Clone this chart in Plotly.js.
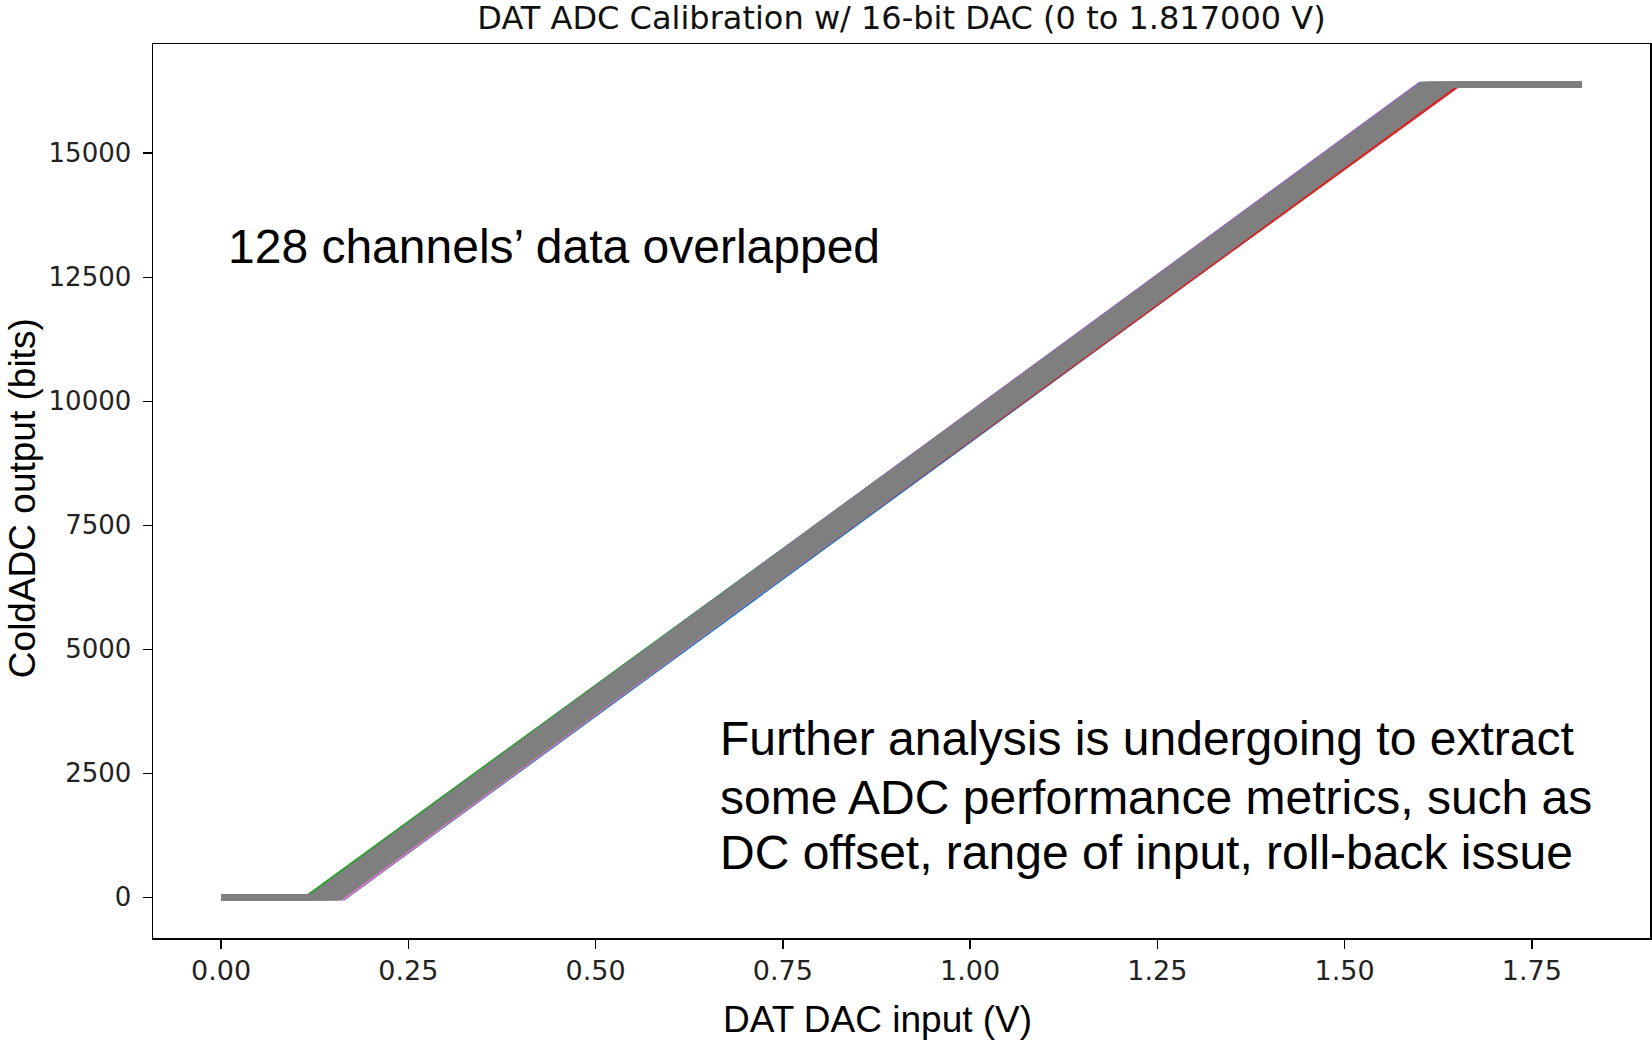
<!DOCTYPE html>
<html>
<head>
<meta charset="utf-8">
<script src="https://cdn.plot.ly/plotly-3.0.1.min.js"></script>
<style>
  html, body { margin: 0; padding: 0; background: #ffffff; }
  #chart { width: 1652px; height: 1040px; }
</style>
</head>
<body>
<div id="chart"></div>
<script>
// DAC sweep limits and ADC full scale (14-bit ColdADC)
const dacStart = 0.0;
const dacEnd = 1.817;
const adcZero = 0;
const adcFull = 16383;

// Per-channel transfer curve: input voltage where the ADC leaves 0 (knee)
// and where it reaches full scale (saturation). Colored channels first,
// the bulk of the 128 channels (drawn in gray) on top.
const channelColors = [
  "#1f77b4", "#2ca02c", "#d62728", "#9467bd", "#e377c2",
  "#7f7f7f", "#7f7f7f", "#7f7f7f", "#7f7f7f",
  "#7f7f7f", "#7f7f7f", "#7f7f7f", "#7f7f7f"
];
const kneeV = [
  0.164, 0.116, 0.155, 0.121, 0.163,
  0.121, 0.126, 0.134, 0.138,
  0.146, 0.150, 0.155, 0.159
];
const satV = [
  1.648, 1.606, 1.651, 1.601, 1.641,
  1.604, 1.611, 1.615, 1.623,
  1.627, 1.635, 1.639, 1.645
];

const traces = kneeV.map((k, i) => ({
  type: "scatter",
  mode: "lines",
  x: [dacStart, k, satV[i], dacEnd],
  y: [adcZero, adcZero, adcFull, adcFull],
  line: { color: channelColors[i], width: 6 },
  hoverinfo: "skip",
  showlegend: false
}));

// matplotlib-style 5% padding around the data
const xPad = (dacEnd - dacStart) * 0.05;
const yPad = (adcFull - adcZero) * 0.05;

const noteFont = { family: "Liberation Sans, Arial", size: 48, color: "#000000" };
const labelFont = { family: "Liberation Sans, Arial", size: 37, color: "#000000" };

const axisCommon = {
  showline: true, mirror: true, linecolor: "#000000", linewidth: 1.5,
  ticks: "outside", ticklen: 9, tickwidth: 1.5, tickcolor: "#000000",
  showgrid: false, zeroline: false
};

const layout = {
  width: 1652, height: 1040,
  margin: { l: 153, r: 2, t: 44, b: 102 },
  paper_bgcolor: "#ffffff", plot_bgcolor: "#ffffff",
  title: {
    text: "DAT ADC Calibration w/ 16-bit DAC (0 to 1.817000 V)",
    font: { family: "DejaVu Sans", size: 32, color: "#111111" },
    xref: "paper", x: 0.5, xanchor: "center",
    yref: "container", y: 0.983, yanchor: "middle"
  },
  xaxis: Object.assign({}, axisCommon, {
    range: [dacStart - xPad, dacEnd + xPad],
    tickvals: [0, 0.25, 0.5, 0.75, 1.0, 1.25, 1.5, 1.75],
    tickformat: ".2f",
    tickfont: { family: "DejaVu Sans", size: 27, color: "#222222" },
    ticklabelstandoff: -1
  }),
  yaxis: Object.assign({}, axisCommon, {
    range: [adcZero - yPad, adcFull + yPad],
    tickvals: [0, 2500, 5000, 7500, 10000, 12500, 15000],
    tickformat: "d",
    tickfont: { family: "DejaVu Sans", size: 26, color: "#222222" },
    ticklabelstandoff: 6
  }),
  annotations: [
    { text: "DAT DAC input (V)", xref: "paper", yref: "paper",
      x: 0.4843, y: -0.0917, xanchor: "center", yanchor: "middle",
      showarrow: false, font: labelFont },
    { text: "ColdADC output (bits)", xref: "paper", yref: "paper",
      x: -0.0875, y: 0.492, xanchor: "center", yanchor: "middle",
      textangle: -90, showarrow: false, font: labelFont },
    { text: "128 channels’ data overlapped", xref: "paper", yref: "paper",
      x: 0.0486, y: 0.774, xanchor: "left", yanchor: "middle",
      showarrow: false, font: noteFont },
    { text: "Further analysis is undergoing to extract", xref: "paper", yref: "paper",
      x: 0.3774, y: 0.2226, xanchor: "left", yanchor: "middle",
      showarrow: false, font: noteFont },
    { text: "some ADC performance metrics, such as", xref: "paper", yref: "paper",
      x: 0.3774, y: 0.1577, xanchor: "left", yanchor: "middle",
      showarrow: false, font: noteFont },
    { text: "DC offset, range of input, roll-back issue", xref: "paper", yref: "paper",
      x: 0.3774, y: 0.0951, xanchor: "left", yanchor: "middle",
      showarrow: false, font: noteFont }
  ]
};

Plotly.newPlot("chart", traces, layout, { staticPlot: true, displayModeBar: false });
</script>
</body>
</html>
